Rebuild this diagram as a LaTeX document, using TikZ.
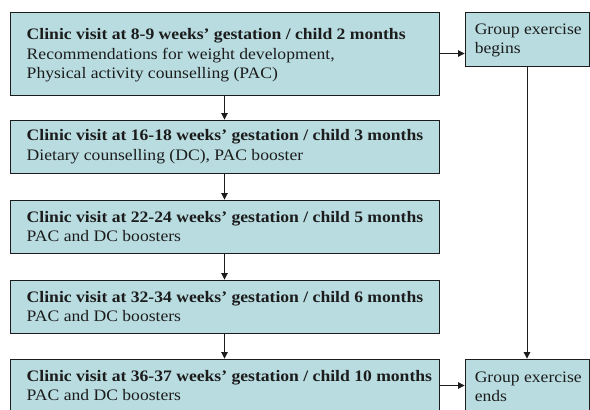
\documentclass[tikz,border=0pt]{standalone}
\usepackage{fontspec}
\setmainfont{Liberation Serif}[FakeStretch=1.1]
\usetikzlibrary{arrows.meta}
\definecolor{boxfill}{RGB}{184,220,224}
\definecolor{ink}{RGB}{28,28,28}
\begin{document}
\begin{tikzpicture}[x=1pt,y=-1pt,
  box/.style={draw=ink, fill=boxfill, line width=0.9pt, rectangle, inner sep=0pt},
  mainbox/.style={box, minimum width=429pt},
  grpbox/.style={box, minimum width=124pt, minimum height=53.3pt},
  txt/.style={anchor=west, align=left, inner sep=0pt, text=ink,
    font=\fontsize{16}{19.5}\selectfont},
  conn/.style={draw=ink, line width=0.9pt, -{Triangle[length=6.5pt,width=6.5pt]}}
]
\useasboundingbox (0,0) rectangle (590,410);
\clip (0,0) rectangle (590,410);
\fill[white] (0,0) rectangle (590,410);

\node[mainbox, minimum height=83pt] (b1) at (224.5,53.5) {};
\node[mainbox, minimum height=53pt] (b2) at (224.5,146.5) {};
\node[mainbox, minimum height=53pt] (b3) at (224.5,226.5) {};
\node[mainbox, minimum height=53pt] (b4) at (224.5,306.5) {};
\node[mainbox, minimum height=53pt] (b5) at (224.5,385.5) {};
\node[grpbox] (g1) at (527,39.4) {};
\node[grpbox] (g2) at (527,385.7) {};

\node[txt] (t1) at ([xshift=17pt,yshift=-2pt]b1.west) {\textbf{Clinic visit at 8-9 weeks’ gestation / child 2 months}\\Recommendations for weight development,\\Physical activity counselling (PAC)};
\node[txt] (t2) at ([xshift=17pt]b2.west) {\textbf{Clinic visit at 16-18 weeks’ gestation / child 3 months}\\Dietary counselling (DC), PAC booster};
\node[txt] (t3) at ([xshift=17pt]b3.west) {\textbf{Clinic visit at 22-24 weeks’ gestation / child 5 months}\\PAC and DC boosters};
\node[txt] (t4) at ([xshift=17pt]b4.west) {\textbf{Clinic visit at 32-34 weeks’ gestation / child 6 months}\\PAC and DC boosters};
\node[txt] (t5) at ([xshift=17pt]b5.west) {\textbf{Clinic visit at 36-37 weeks’ gestation / child 10 months}\\PAC and DC boosters};
\node[txt] (tg1) at ([xshift=10pt,yshift=-1pt]g1.west) {Group exercise\\begins};
\node[txt] (tg2) at ([xshift=10pt,yshift=-1pt]g2.west) {Group exercise\\ends};

\draw[conn] (b1) -- (b2);
\draw[conn] (b2) -- (b3);
\draw[conn] (b3) -- (b4);
\draw[conn] (b4) -- (b5);
\draw[conn] (b1.east) -- (b1.east -| g1.west);
\draw[conn] (b5.east) -- (b5.east -| g2.west);
\draw[conn] (g1) -- (g2);
\end{tikzpicture}
\end{document}
